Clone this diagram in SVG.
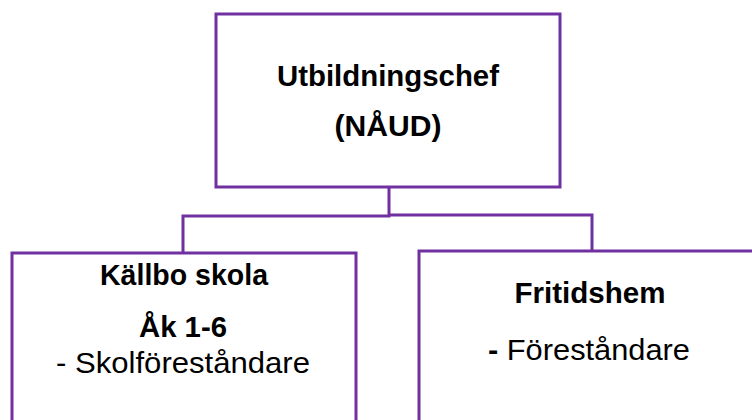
<svg xmlns="http://www.w3.org/2000/svg" width="752" height="420" viewBox="0 0 752 420">
<style>
.box{fill:#fff;stroke:#7030A0;stroke-width:3}
.conn{fill:none;stroke:#7030A0;stroke-width:3}
text{font-family:"Liberation Sans",Arial,sans-serif;fill:#000;text-anchor:middle;font-size:30px}
.b{font-weight:bold}
</style>
<rect width="752" height="420" fill="#fff"/>
<g id="connectors">
<polyline class="conn" points="389,187 389,216 183,216 183,253"/>
<polyline class="conn" points="389,215 592,215 592,251"/>
</g>
<g id="n-utbildningschef">
<rect class="box" x="216" y="14" width="344" height="173"/>
<text class="b" x="388" y="86" textLength="222" lengthAdjust="spacingAndGlyphs">Utbildningschef</text>
<text class="b" x="388" y="136" textLength="107" lengthAdjust="spacingAndGlyphs">(NÅUD)</text>
</g>
<g id="n-kallbo">
<rect class="box" x="12" y="253" width="344" height="180"/>
<text class="b" x="184" y="285" textLength="168" lengthAdjust="spacingAndGlyphs">Källbo skola</text>
<text class="b" x="183" y="337" textLength="88" lengthAdjust="spacingAndGlyphs">Åk 1-6</text>
<text x="183" y="373" textLength="254" lengthAdjust="spacingAndGlyphs">- Skolföreståndare</text>
</g>
<g id="n-fritidshem">
<rect class="box" x="419" y="251" width="344" height="182"/>
<text class="b" x="590" y="303" textLength="151" lengthAdjust="spacingAndGlyphs">Fritidshem</text>
<text x="589" y="360" textLength="202" lengthAdjust="spacingAndGlyphs"><tspan class="b">-</tspan> Föreståndare</text>
</g>
</svg>
